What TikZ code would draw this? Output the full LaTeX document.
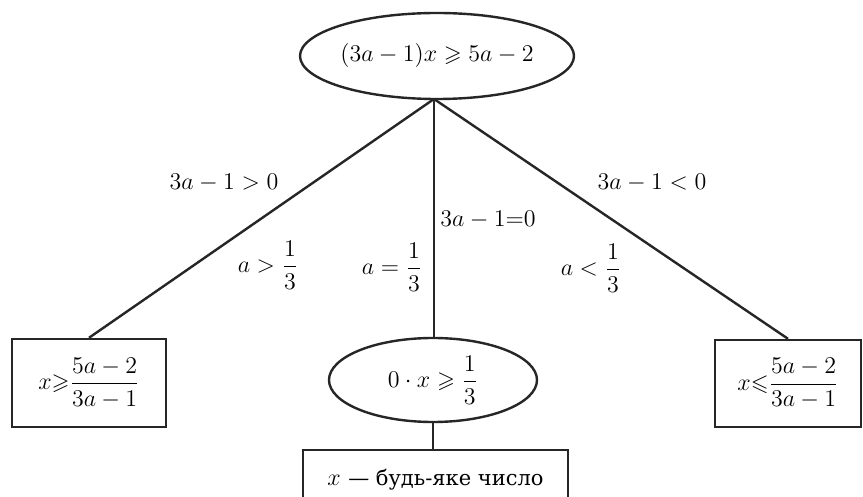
\documentclass[tikz,border=0pt]{standalone}
\usepackage{amsmath,amssymb}
\usepackage{fontspec}
\newfontfamily\cyr{DejaVu Serif}
\usetikzlibrary{shapes.geometric}
\begin{document}
\begin{tikzpicture}[x=0.5pt,y=-0.5pt,
  every node/.style={font=\fontsize{11.5}{13}\selectfont},
  conn/.style={draw=black!85, line width=1.2pt},
  ell/.style={ellipse, draw=black!85, line width=1.2pt, inner sep=0pt},
  res/.style={rectangle, draw=black!85, line width=1.2pt, inner sep=0pt},
  lab/.style={inner sep=0pt}]
\useasboundingbox (0,0) rectangle (863,497);
\clip (0,0) rectangle (863,497);
\fill[white] (0,0) rectangle (863,497);
% nodes
\node[ell, minimum width=137pt, minimum height=43pt] (top) at (437,56) {$(3a-1)x\geqslant 5a-2$};
\coordinate (apex) at (434,99);
\node[res, minimum width=77pt, minimum height=44pt] (left) at (89,383) {$x{\geqslant}\dfrac{5a-2}{3a-1}$};
\node[res, minimum width=73pt, minimum height=43.5pt] (right) at (788,383.5) {$x{\leqslant}\dfrac{5a-2}{3a-1}$};
\node[ell, minimum width=104pt, minimum height=42pt] (mid) at (433,380) {$0\cdot x\geqslant\dfrac{1}{3}$};
\node[res, minimum width=132.5pt, minimum height=30pt] (bot) at (435.5,480) {$x$ {\cyr\fontsize{10.5}{12}\selectfont — будь-яке число}};
% connectors
\draw[conn] (apex) -- (left.north);
\draw[conn] (apex) -- (right.north);
\draw[conn] (apex) -- (mid.north -| apex);
\draw[conn] (mid.south) -- (bot.north -| mid.south);
% labels
\node[lab] (l1) at (224,183) {$3a-1>0$};
\node[lab] (l2) at (268,265) {$a>\dfrac{1}{3}$};
\node[lab] (l3) at (488,220) {$3a-1{=}0$};
\node[lab] (l4) at (392,267) {$a=\dfrac{1}{3}$};
\node[lab] (l5) at (652,183) {$3a-1<0$};
\node[lab] (l6) at (591,268) {$a<\dfrac{1}{3}$};
\end{tikzpicture}
\end{document}
